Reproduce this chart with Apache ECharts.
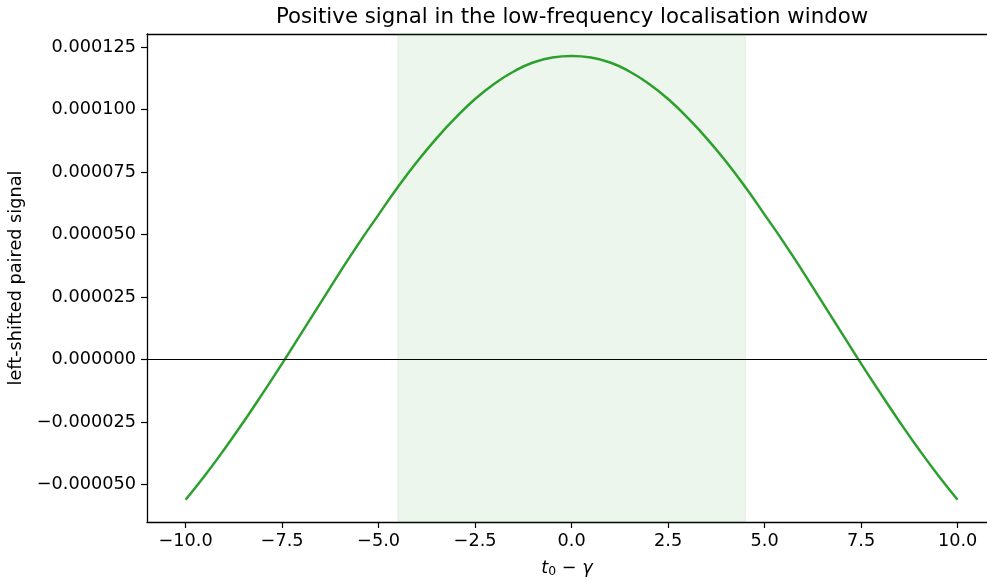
<!DOCTYPE html>
<html>
<head>
<meta charset="utf-8">
<script src="https://cdn.jsdelivr.net/npm/echarts@6/dist/echarts.min.js"></script>
<style>
html,body{margin:0;padding:0;background:#fff;}
#chart{width:987px;height:580px;}
</style>
</head>
<body>
<div id="chart"></div>
<script>
// ---- data ----
const titleText = 'Positive signal in the low-frequency localisation window';
const yAxisTitle = 'left-shifted paired signal';
const xValues = [-10, -9.5, -9, -8.5, -8, -7.5, -7, -6.5, -6, -5.5, -5, -4.5, -4, -3.5, -3, -2.5, -2, -1.5, -1, -0.5, 0,
                 0.5, 1, 1.5, 2, 2.5, 3, 3.5, 4, 4.5, 5, 5.5, 6, 6.5, 7, 7.5, 8, 8.5, 9, 9.5, 10];
const signalValues = [
  -0.0000560, -0.0000463, -0.0000359, -0.0000249, -0.0000134, -0.0000016, 0.0000106, 0.0000228, 0.0000350, 0.0000468,
  0.0000580, 0.0000690, 0.0000792, 0.0000885, 0.0000968, 0.0001042, 0.0001103, 0.0001152, 0.0001188, 0.0001208, 0.0001214,
  0.0001208, 0.0001188, 0.0001152, 0.0001103, 0.0001042, 0.0000968, 0.0000885, 0.0000792, 0.0000690, 0.0000580,
  0.0000468, 0.0000350, 0.0000228, 0.0000106, -0.0000016, -0.0000134, -0.0000249, -0.0000359, -0.0000463, -0.0000560];
const windowRange = [-4.5, 4.5];
const xTicks = [-10, -7.5, -5, -2.5, 0, 2.5, 5, 7.5, 10];
const yTicks = [-0.00005, -0.000025, 0, 0.000025, 0.00005, 0.000075, 0.0001, 0.000125];
const xRange = [-11, 10.762];
const yRange = [-0.0000649, 0.0001302];

const seriesData = xValues.map((x, i) => [x, signalValues[i]]);
const FONT = 'DejaVu Sans';
const FS = 17.7;
const minus = s => s.replace('-', '\u2212');

const chart = echarts.init(document.getElementById('chart'), null, {renderer: 'canvas'});
chart.setOption({
  backgroundColor: '#ffffff',
  animation: false,
  title: {
    text: titleText,
    left: 567,
    top: 2,
    textAlign: 'center',
    textStyle: {fontFamily: FONT, fontSize: 21.3, fontWeight: 'normal', color: '#000'}
  },
  grid: {left: 147, top: 34, right: 0, height: 488, show: false, outerBoundsMode: 'none', containLabel: false},
  xAxis: [{
    type: 'value',
    min: xRange[0], max: xRange[1],
    splitLine: {show: false},
    axisLine: {onZero: false, lineStyle: {color: '#000', width: 1.3}},
    axisTick: {show: true, length: 6, lineStyle: {color: '#000', width: 1.2}, customValues: xTicks},
    axisLabel: {
      customValues: xTicks,
      margin: 10,
      fontFamily: FONT, fontSize: FS, color: '#000',
      formatter: v => minus(Number(v).toFixed(1))
    },
    name: '{it|t}{sub|0}{op| \u2212 }{it|\u03b3}',
    nameLocation: 'middle',
    nameGap: 37,
    nameTextStyle: {
      fontFamily: FONT, fontSize: FS, color: '#000',
      rich: {
        it: {fontFamily: FONT, fontStyle: 'italic', fontSize: FS, color: '#000'},
        sub: {fontFamily: FONT, fontSize: 12.4, color: '#000', padding: [7, 0, 0, 0]},
        op: {fontFamily: FONT, fontSize: FS, color: '#000'}
      }
    }
  }, {
    type: 'value',
    position: 'top',
    min: xRange[0], max: xRange[1],
    splitLine: {show: false},
    axisLine: {show: true, onZero: false, lineStyle: {color: '#000', width: 1.3}},
    axisTick: {show: false},
    axisLabel: {show: false}
  }],
  yAxis: {
    type: 'value',
    min: yRange[0], max: yRange[1],
    splitLine: {show: false},
    axisLine: {show: true, onZero: false, lineStyle: {color: '#000', width: 1.3}},
    axisTick: {show: true, length: 6, lineStyle: {color: '#000', width: 1.2}, customValues: yTicks},
    axisLabel: {
      customValues: yTicks,
      margin: 11,
      fontFamily: FONT, fontSize: FS, color: '#000',
      formatter: v => minus(Number(v).toFixed(6))
    },
    name: yAxisTitle,
    nameLocation: 'middle',
    nameGap: 119,
    nameTextStyle: {fontFamily: FONT, fontSize: FS, color: '#000'}
  },
  series: [{
    type: 'line',
    xAxisIndex: 0,
    data: seriesData,
    showSymbol: false,
    smooth: true,
    lineStyle: {color: '#2ca02c', width: 2.5},
    itemStyle: {color: '#2ca02c'},
    z: 3,
    markArea: {
      silent: true,
      itemStyle: {color: 'rgba(44,160,44,0.09)', borderColor: 'rgba(44,160,44,0.1)', borderWidth: 1},
      data: [[{xAxis: windowRange[0]}, {xAxis: windowRange[1]}]]
    },
    markLine: {
      silent: true,
      symbol: ['none', 'none'],
      label: {show: false},
      lineStyle: {color: '#000', width: 1.2, type: 'solid'},
      data: [{yAxis: 0}]
    }
  }]
});
</script>
</body>
</html>
